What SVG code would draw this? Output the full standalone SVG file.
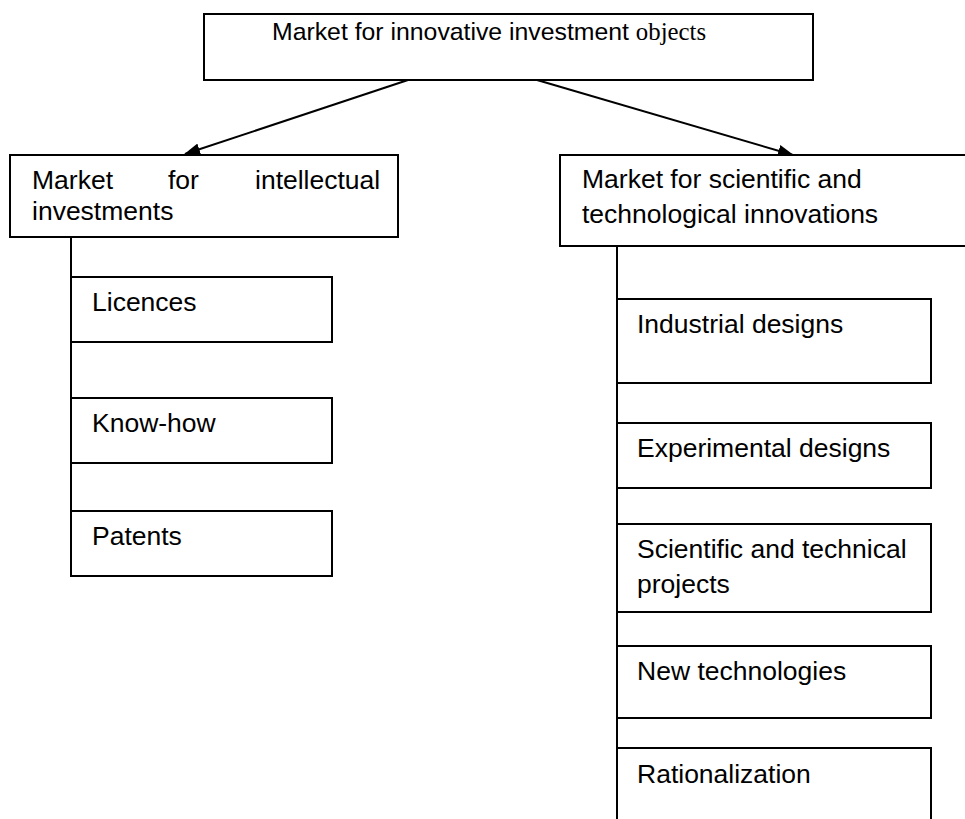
<svg xmlns="http://www.w3.org/2000/svg" width="965" height="819" viewBox="0 0 965 819">
  <style>
    .box { fill: #fff; stroke: #000; stroke-width: 2; }
    .lbl { font-family: "Liberation Sans", Arial, sans-serif; font-size: 26.5px; fill: #000; }
    .title { font-family: "Liberation Sans", Arial, sans-serif; font-size: 24.8px; fill: #000; }
    .serif { font-family: "Liberation Serif", "Times New Roman", serif; }
    .link { stroke: #000; stroke-width: 2; fill: none; }
  </style>
  <defs>
    <marker id="arrow" markerUnits="userSpaceOnUse" markerWidth="16" markerHeight="12" refX="15" refY="6" orient="auto">
      <path d="M0,0 L16,6 L0,12 Z" fill="#000"/>
    </marker>
  </defs>
  <rect width="965" height="819" fill="#fff"/>

  <!-- connectors -->
  <g id="connectors">
    <line class="link" x1="408" y1="80" x2="185" y2="154" marker-end="url(#arrow)"/>
    <line class="link" x1="537" y1="80" x2="793" y2="155" marker-end="url(#arrow)"/>
    <line class="link" x1="71" y1="237" x2="71" y2="576"/>
    <line class="link" x1="617" y1="246" x2="617" y2="819"/>
  </g>

  <!-- root -->
  <g id="root">
    <rect class="box" x="204" y="14" width="609" height="66"/>
    <text class="title" x="272" y="40">Market for innovative investment <tspan class="serif">objects</tspan></text>
  </g>

  <!-- intellectual investments branch -->
  <g id="intellectual">
    <rect class="box" x="10" y="155" width="388" height="82"/>
    <text class="lbl" x="32" y="189">Market</text>
    <text class="lbl" x="168" y="189">for</text>
    <text class="lbl" x="255" y="189">intellectual</text>
    <text class="lbl" x="32" y="220">investments</text>
  </g>
  <g id="licences">
    <rect class="box" x="71" y="277" width="261" height="65"/>
    <text class="lbl" x="92" y="311">Licences</text>
  </g>
  <g id="know-how">
    <rect class="box" x="71" y="398" width="261" height="65"/>
    <text class="lbl" x="92" y="432">Know-how</text>
  </g>
  <g id="patents">
    <rect class="box" x="71" y="511" width="261" height="65"/>
    <text class="lbl" x="92" y="545">Patents</text>
  </g>

  <!-- scientific and technological innovations branch -->
  <g id="scitech">
    <rect class="box" x="560" y="155" width="420" height="91"/>
    <text class="lbl" x="582" y="188">Market for scientific and</text>
    <text class="lbl" x="582" y="223">technological innovations</text>
  </g>
  <g id="industrial-designs">
    <rect class="box" x="617" y="299" width="314" height="84"/>
    <text class="lbl" x="637" y="333">Industrial designs</text>
  </g>
  <g id="experimental-designs">
    <rect class="box" x="617" y="423" width="314" height="65"/>
    <text class="lbl" x="637" y="457">Experimental designs</text>
  </g>
  <g id="sci-tech-projects">
    <rect class="box" x="617" y="524" width="314" height="88"/>
    <text class="lbl" x="637" y="558">Scientific and technical</text>
    <text class="lbl" x="637" y="593">projects</text>
  </g>
  <g id="new-technologies">
    <rect class="box" x="617" y="646" width="314" height="72"/>
    <text class="lbl" x="637" y="680">New technologies</text>
  </g>
  <g id="rationalization">
    <rect class="box" x="617" y="748" width="314" height="90"/>
    <text class="lbl" x="637" y="783">Rationalization</text>
  </g>
</svg>
